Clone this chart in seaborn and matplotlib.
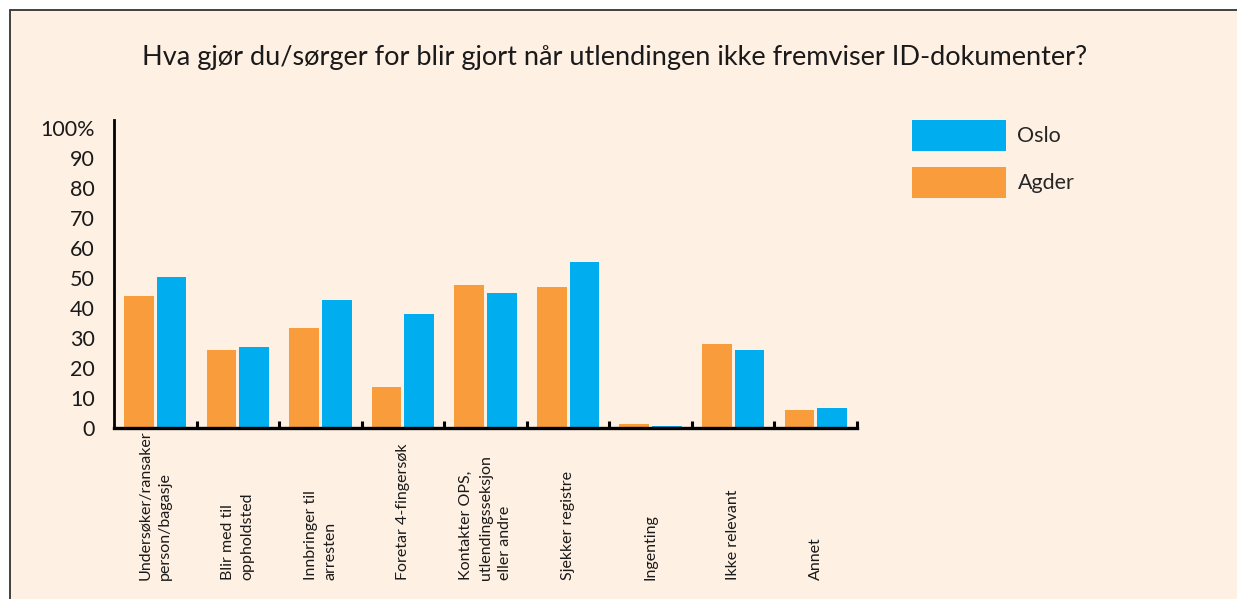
import matplotlib
matplotlib.use("Agg")
import matplotlib.pyplot as plt
import matplotlib.patches as mpatches
import matplotlib.transforms as mtransforms
import seaborn as sns
import pandas as pd

categories = [
    "Undersøker/ransaker\nperson/bagasje",
    "Blir med til\noppholdsted",
    "Innbringer til\narresten",
    "Foretar 4-fingersøk",
    "Kontakter OPS,\nutlendingsseksjon\neller andre",
    "Sjekker registre",
    "Ingenting",
    "Ikke relevant",
    "Annet",
]
agder = [44, 26, 33.3, 13.7, 47.7, 47, 1.3, 28, 6]
oslo = [50.3, 27, 42.7, 38, 45, 55.3, 0.8, 26, 6.7]
series = ["Agder", "Oslo"]
colors = {"Agder": "#F99D3C", "Oslo": "#00ADEE"}
ytick_vals = [0, 10, 20, 30, 40, 50, 60, 70, 80, 90, 100]
ytick_labels = ["0", "10", "20", "30", "40", "50", "60", "70", "80", "90", "100%"]
title = "Hva gjør du/sørger for blir gjort når utlendingen ikke fremviser ID-dokumenter?"

bg = "#FEF0E3"
sns.set_theme(style="white")
plt.rcParams["font.family"] = ["Lato", "DejaVu Sans"]

df = pd.DataFrame({
    "kategori": categories * 2,
    "serie": ["Agder"] * len(categories) + ["Oslo"] * len(categories),
    "verdi": agder + oslo,
})

W, H = 1237, 599
fig = plt.figure(figsize=(W / 100, H / 100), dpi=100, facecolor="white")

# panel background with top and left border
fig.patches.append(mpatches.Rectangle((9.5 / W, -0.2), 1.2, 1 - 10.5 / H + 0.2,
                                      transform=fig.transFigure, facecolor=bg,
                                      edgecolor="#333333", linewidth=1.3, zorder=-5))

ax = fig.add_axes([114 / W, 1 - 428 / H, (857 - 114) / W, 308 / H])
ax.set_facecolor(bg)

sns.barplot(data=df, x="kategori", y="verdi", hue="serie", hue_order=series,
            palette=colors, width=0.79, gap=0.09, saturation=1, ax=ax,
            order=categories, errorbar=None, linewidth=0)

ax.set_xlim(-0.5, len(categories) - 0.5)
ax.set_ylim(0, 102.7)
ax.set_xlabel("")
ax.set_ylabel("")
ax.set_yticks(ytick_vals)
ax.set_yticklabels(ytick_labels, fontsize=15.5, color="#1a1a1a")
ax.tick_params(axis="y", length=0, pad=14)
ax.set_xticks(range(len(categories)))
ax.set_xticklabels([])
ax.tick_params(axis="x", which="major", length=0)
ax.set_xticks([i + 0.5 for i in range(len(categories))], minor=True)
ax.tick_params(axis="x", which="minor", direction="in", length=5, width=2.2, color="black", bottom=True)

for s in ["top", "right"]:
    ax.spines[s].set_visible(False)
ax.spines["left"].set_linewidth(2.0)
ax.spines["left"].set_color("black")
ax.spines["bottom"].set_linewidth(2.4)
ax.spines["bottom"].set_color("black")

trans = mtransforms.blended_transform_factory(ax.transData, ax.transAxes)
for i, lab in enumerate(categories):
    ax.text(i + 0.0, -0.4935, lab, transform=trans, rotation=90, ha="center",
            va="bottom", multialignment="left", fontsize=11.5, color="#1a1a1a",
            linespacing=1.5)

handles, labels = ax.get_legend_handles_labels()
order = [labels.index("Oslo"), labels.index("Agder")]
ax.legend([handles[k] for k in order], [labels[k] for k in order],
          loc="upper left", bbox_to_anchor=(912 / W, 1 - 120 / H),
          bbox_transform=fig.transFigure, frameon=False, fontsize=15.5,
          handlelength=4.35, handleheight=1.85, labelspacing=0.72,
          handletextpad=0.55, borderpad=0, borderaxespad=0)

fig.text(615 / W, 1 - 57 / H, title, ha="center", va="center", fontsize=19.5,
         color="#1a1a1a")

fig.savefig("out.png", dpi=100, facecolor="white")
